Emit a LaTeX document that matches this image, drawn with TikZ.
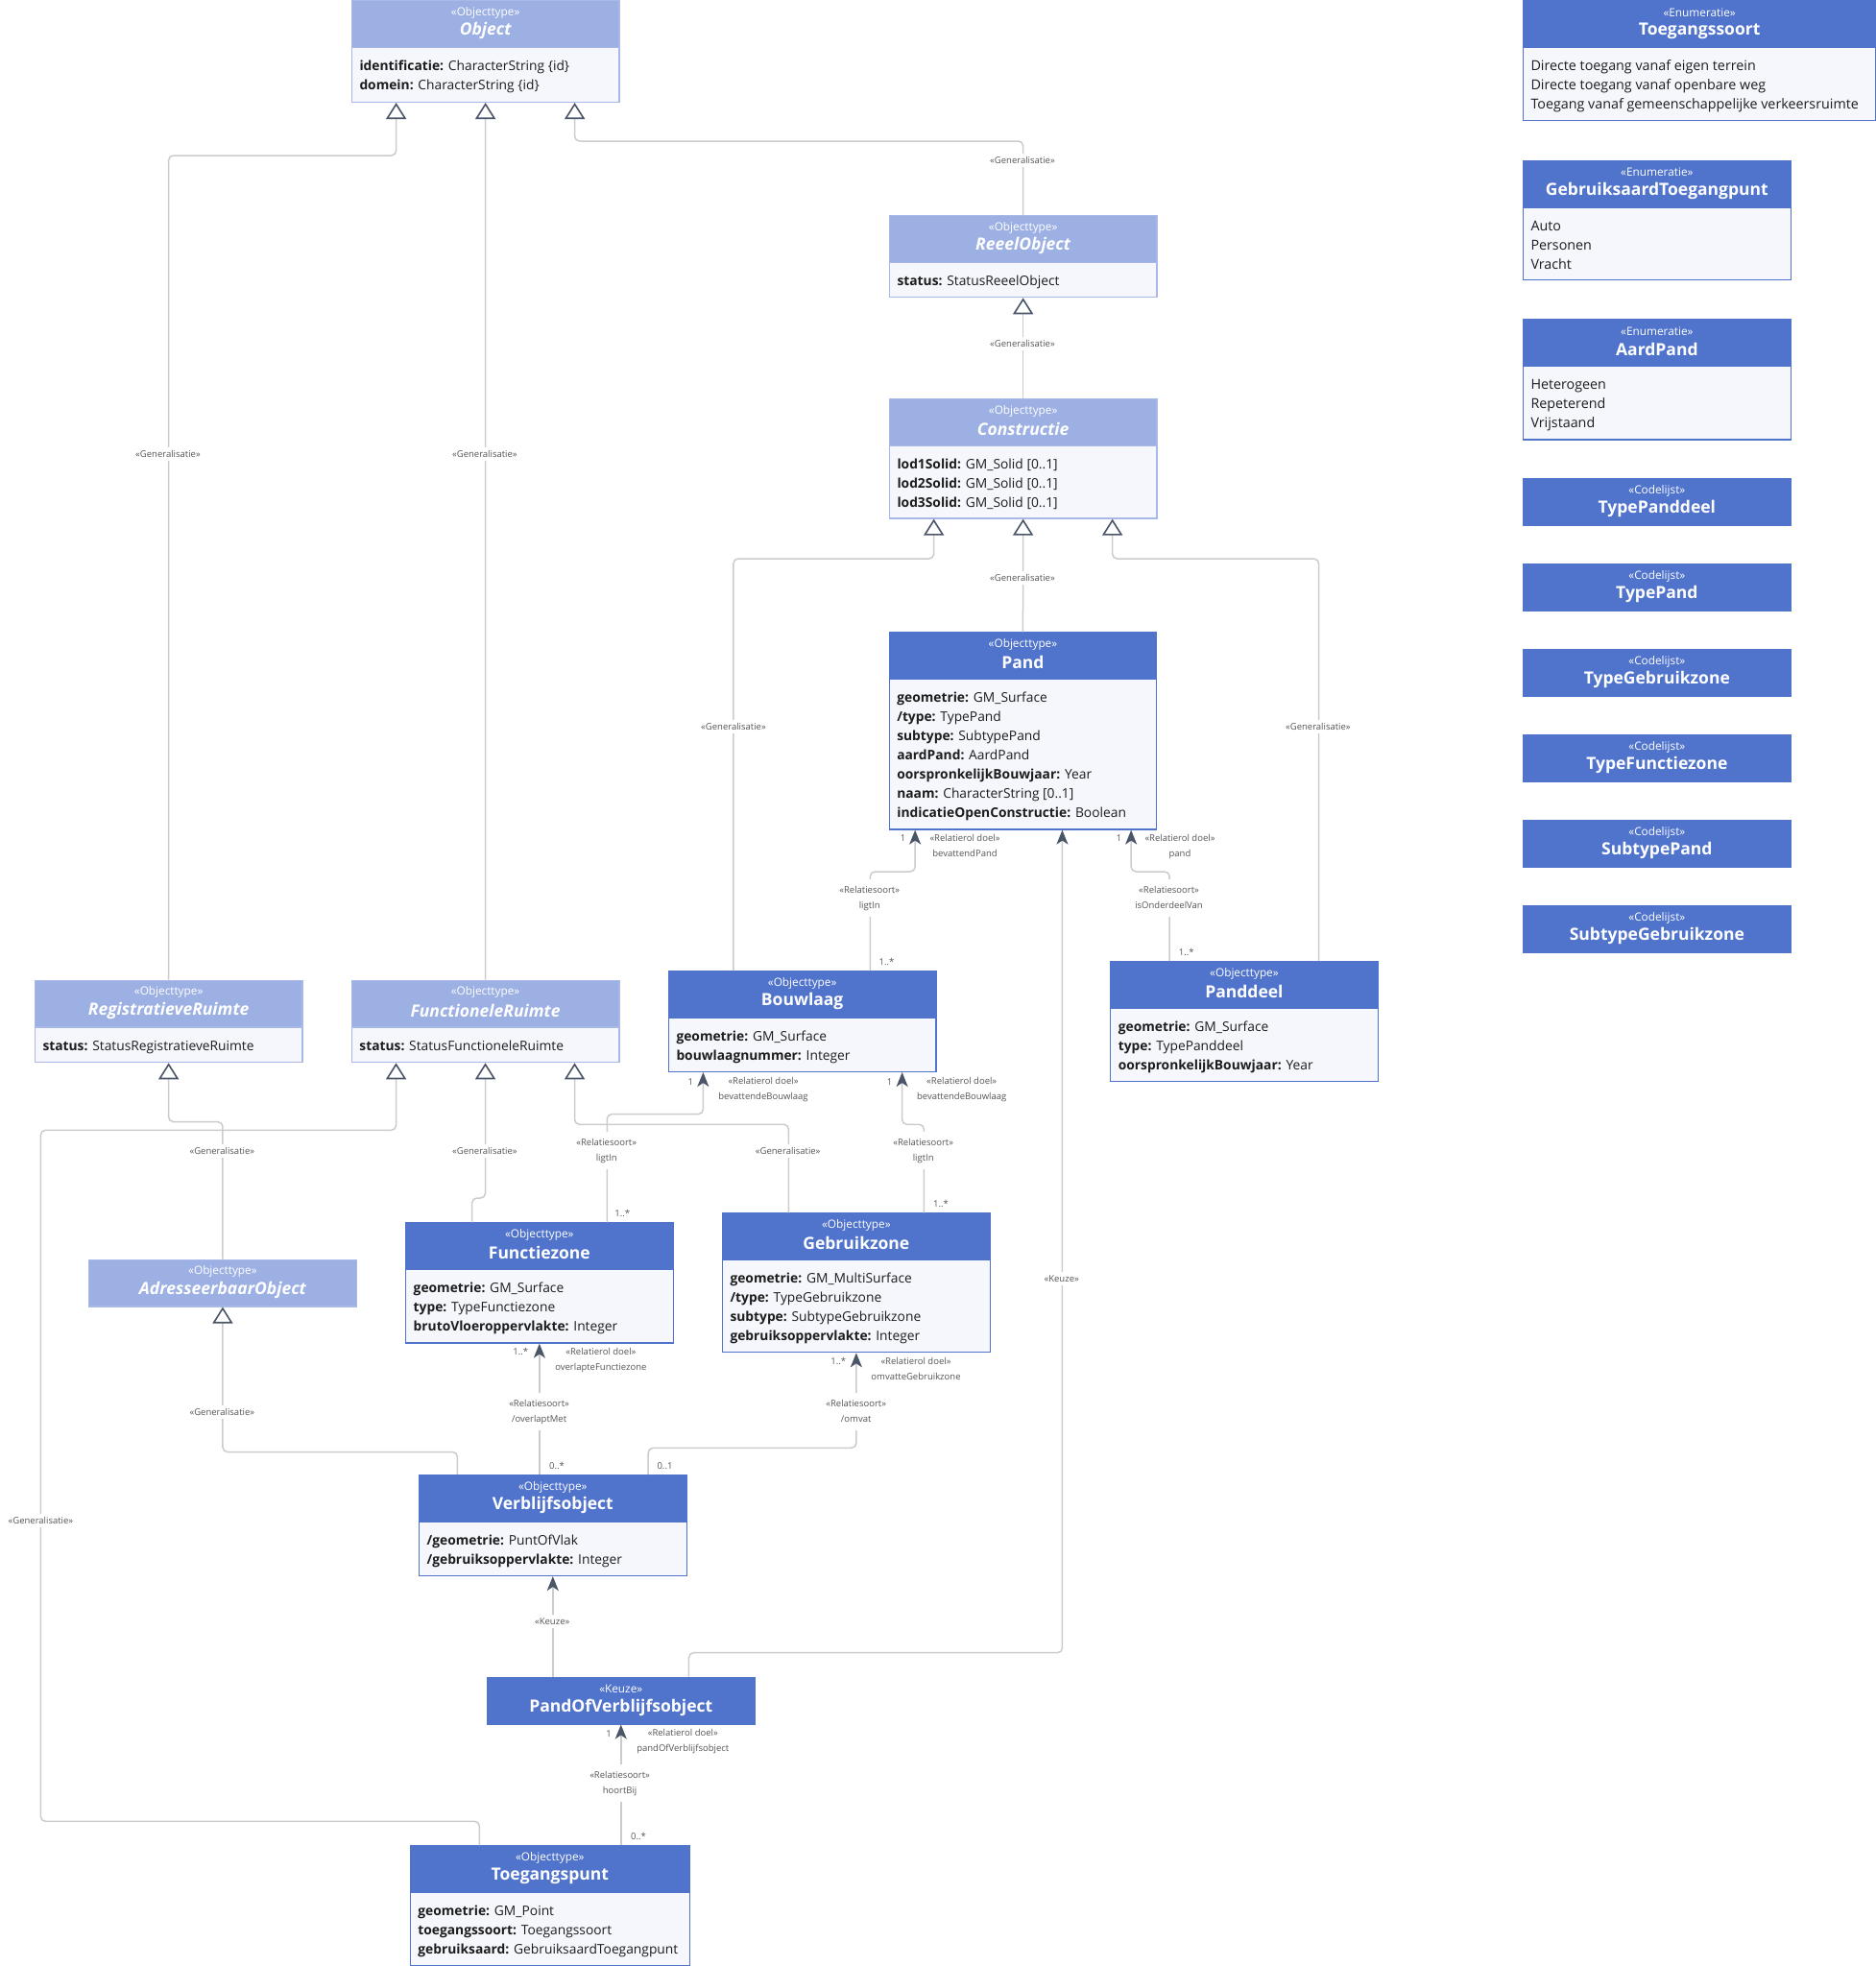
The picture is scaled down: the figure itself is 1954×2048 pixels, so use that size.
\documentclass[tikz,border=0pt]{standalone}
\usepackage{fontspec}
\setmainfont{Open Sans}
\usetikzlibrary{arrows.meta}
\definecolor{darkhead}{RGB}{80,115,204}
\definecolor{lighthead}{RGB}{157,176,227}
\definecolor{lightborder}{RGB}{168,185,232}
\definecolor{bodyc}{RGB}{245,247,252}
\definecolor{linec}{RGB}{204,204,204}
\definecolor{tipc}{RGB}{74,85,104}
\definecolor{textc}{RGB}{28,28,28}
\definecolor{labc}{RGB}{85,85,85}
\newcommand\attr[2]{\strut\textbf{#1:} #2}
\newcommand\enumval[1]{\strut{\fontsize{14.3}{20}\selectfont #1}}
\newcommand\classbox[8]{%
  \node[box#2, minimum width=#4, minimum height=#5] (#1) at (#3) {};
  \node[head#2, minimum width=#4] (#1head) at (#1.north) {};
  \node[stereo] (#1st) at ([yshift=-13pt]#1head.north) {«#6»};
  \node[title#2] (#1nm) at ([yshift=-32pt]#1head.north) {#7};
  \node[attrs] (#1at) at ([xshift=8.6pt,yshift=-9.4pt]#1head.south west) {#8};
}

\begin{document}
\begin{tikzpicture}
[x=1pt,y=-1pt,
boxdark/.style={anchor=north west,draw=darkhead,fill=bodyc,line width=1.3pt,inner sep=0pt},
boxlight/.style={anchor=north west,draw=lightborder,fill=bodyc,line width=1.3pt,inner sep=0pt},
headdark/.style={anchor=north,draw=darkhead,fill=darkhead,line width=1.3pt,minimum height=48.5pt,inner sep=0pt},
headlight/.style={anchor=north,draw=lightborder,fill=lighthead,line width=1.3pt,minimum height=48.5pt,inner sep=0pt},
stereo/.style={text=white,inner sep=0pt,font=\fontsize{11.8}{13}\selectfont},
titledark/.style={text=white,inner sep=0pt,font=\bfseries\fontsize{17.5}{20}\selectfont},
titlelight/.style={text=white,inner sep=0pt,font=\bfseries\itshape\fontsize{17.5}{20}\selectfont},
attrs/.style={anchor=north west,align=left,inner sep=0pt,text=textc,font=\fontsize{13.8}{20}\selectfont},
gen/.style={draw=linec,line width=1.5pt,rounded corners=5pt,
  -{Triangle[width=21pt,length=17pt,fill=white,color=tipc,line width=1.6pt]}},
assoc/.style={draw=linec,line width=1.5pt,rounded corners=5pt,
  -{Stealth[length=15pt,width=12pt,inset=4pt,color=tipc]}},
lab/.style={fill=white,text=labc,inner sep=3.5pt,align=center,font=\fontsize{9.5}{16}\selectfont},
role/.style={text=labc,inner sep=0pt,align=center,font=\fontsize{9.5}{16}\selectfont}]
\fill[white] (0,0) rectangle (1954,2048);
\useasboundingbox (0,0) rectangle (1954,2048);

\classbox{object}{light}{365.7,0}{278.6}{105.7}{Objecttype}{Object}{\attr{identificatie}{CharacterString \{id\}}\\\attr{domein}{CharacterString \{id\}}}
\classbox{reeel}{light}{925.7,224}{278.6}{85}{Objecttype}{ReeelObject}{\attr{status}{StatusReeelObject}}
\classbox{constructie}{light}{925.7,415}{278.6}{124.3}{Objecttype}{Constructie}{\attr{lod1Solid}{GM\_Solid [0..1]}\\\attr{lod2Solid}{GM\_Solid [0..1]}\\\attr{lod3Solid}{GM\_Solid [0..1]}}
\classbox{pand}{dark}{925.5,658.3}{278.6}{205}{Objecttype}{Pand}{\attr{geometrie}{GM\_Surface}\\\attr{/type}{TypePand}\\\attr{subtype}{SubtypePand}\\\attr{aardPand}{AardPand}\\\attr{oorspronkelijkBouwjaar}{Year}\\\attr{naam}{CharacterString [0..1]}\\\attr{indicatieOpenConstructie}{Boolean}}
\classbox{panddeel}{dark}{1156,1001}{278.6}{125}{Objecttype}{Panddeel}{\attr{geometrie}{GM\_Surface}\\\attr{type}{TypePanddeel}\\\attr{oorspronkelijkBouwjaar}{Year}}
\classbox{bouwlaag}{dark}{695.7,1011}{278.6}{104.7}{Objecttype}{Bouwlaag}{\attr{geometrie}{GM\_Surface}\\\attr{bouwlaagnummer}{Integer}}
\classbox{regruimte}{light}{35.7,1020.7}{278.6}{85.3}{Objecttype}{RegistratieveRuimte}{\attr{status}{StatusRegistratieveRuimte}}
\classbox{funcruimte}{light}{365.6,1020.7}{278.6}{85.3}{Objecttype}{FunctioneleRuimte}{\attr{status}{StatusFunctioneleRuimte}}
\classbox{adres}{light}{92,1311.7}{278.6}{48.5}{Objecttype}{AdresseerbaarObject}{}
\classbox{functiezone}{dark}{421.9,1273.3}{278.6}{125}{Objecttype}{Functiezone}{\attr{geometrie}{GM\_Surface}\\\attr{type}{TypeFunctiezone}\\\attr{brutoVloeroppervlakte}{Integer}}
\classbox{gebruikzone}{dark}{751.7,1263.3}{279}{144.7}{Objecttype}{Gebruikzone}{\attr{geometrie}{GM\_MultiSurface}\\\attr{/type}{TypeGebruikzone}\\\attr{subtype}{SubtypeGebruikzone}\\\attr{gebruiksoppervlakte}{Integer}}
\classbox{verblijf}{dark}{435.8,1536}{278.7}{104.7}{Objecttype}{Verblijfsobject}{\attr{/geometrie}{PuntOfVlak}\\\attr{/gebruiksoppervlakte}{Integer}}
\classbox{pov}{dark}{506.5,1746.7}{279.2}{48.5}{Keuze}{PandOfVerblijfsobject}{}
\classbox{toegang}{dark}{426.6,1922.3}{291.1}{124.5}{Objecttype}{Toegangspunt}{\attr{geometrie}{GM\_Point}\\\attr{toegangssoort}{Toegangssoort}\\\attr{gebruiksaard}{GebruiksaardToegangpunt}}

\classbox{toegangssoort}{dark}{1585.7,0}{367.6}{125}{Enumeratie}{Toegangssoort}{\enumval{Directe toegang vanaf eigen terrein}\\\enumval{Directe toegang vanaf openbare weg}\\\enumval{Toegang vanaf gemeenschappelijke verkeersruimte}}
\classbox{gebruiksaard}{dark}{1585.7,166.7}{279}{124.3}{Enumeratie}{GebruiksaardToegangpunt}{\enumval{Auto}\\\enumval{Personen}\\\enumval{Vracht}}
\classbox{aardpand}{dark}{1585.7,332.3}{279}{125}{Enumeratie}{AardPand}{\enumval{Heterogeen}\\\enumval{Repeterend}\\\enumval{Vrijstaand}}
\foreach \nm/\ty [count=\i from 0] in {typepanddeel/TypePanddeel,typepand/TypePand,typegebruikzone/TypeGebruikzone,typefunctiezone/TypeFunctiezone,subtypepand/SubtypePand,subtypegebruikzone/SubtypeGebruikzone}
  {\classbox{\nm}{dark}{1585.7,{498.3+89*\i}}{279}{48.4}{Codelijst}{\ty}{}}

% generalisaties
\draw[gen] (regruimte.north) |- ([xshift=-93pt,yshift=-55pt]object.south) -- ([xshift=-93pt]object.south);
\draw[gen] (funcruimte.north) -- (object.south);
\draw[gen] (reeel.north) |- ([xshift=93pt,yshift=-40pt]object.south) -- ([xshift=93pt]object.south);
\draw[gen] (constructie.north) -- (reeel.south);
\draw[gen] ([xshift=-71.7pt]bouwlaag.north) |- ([xshift=-93pt,yshift=-41.4pt]constructie.south) -- ([xshift=-93pt]constructie.south);
\draw[gen] (pand.north) -- (constructie.south);
\draw[gen] ([xshift=77.6pt]panddeel.north) |- ([xshift=93pt,yshift=-41.4pt]constructie.south) -- ([xshift=93pt]constructie.south);
\draw[gen] (adres.north) |- ([yshift=-61.3pt]regruimte.south) -- (regruimte.south);
\draw[gen] ([xshift=-73.4pt]toegang.north) -- ++(0,-25) -| (42.4,1177.3) -| ([xshift=-93pt]funcruimte.south);
\draw[gen] ([xshift=-70.2pt]functiezone.north) |- ([yshift=-140.7pt]funcruimte.south) -- (funcruimte.south);
\draw[gen] ([xshift=-70.5pt]gebruikzone.north) |- ([xshift=93pt,yshift=-64pt]funcruimte.south) -- ([xshift=93pt]funcruimte.south);
\draw[gen] ([xshift=-99.4pt]verblijf.north) |- ([yshift=-151pt]adres.south) -- (adres.south);

% relaties
\draw[assoc] ([xshift=70.7pt]bouwlaag.north) |- ([xshift=-112.3pt,yshift=-43.4pt]pand.south) -- ([xshift=-112.3pt]pand.south);
\draw[assoc] ([xshift=-77.8pt]panddeel.north) |- ([xshift=112.7pt,yshift=-43.4pt]pand.south) -- ([xshift=112.7pt]pand.south);
\draw[assoc] ([xshift=70.7pt]pov.north) -- ++(0,-25) -| ([xshift=41pt]pand.south);
\draw[assoc] ([xshift=70.5pt]functiezone.north) |- ([xshift=-103.3pt,yshift=-43.6pt]bouwlaag.south) -- ([xshift=-103.3pt]bouwlaag.south);
\draw[assoc] ([xshift=70.5pt]gebruikzone.north) |- ([xshift=104pt,yshift=-54.3pt]bouwlaag.south) -- ([xshift=104pt]bouwlaag.south);
\draw[assoc] (functiezone.south |- verblijf.north) -- (functiezone.south);
\draw[assoc] ([xshift=99.4pt]verblijf.north) -- ++(0,-27.7) -| (gebruikzone.south);
\draw[assoc] (verblijf.south |- pov.north) -- (verblijf.south);
\draw[assoc] (pov.south |- toegang.north) -- (pov.south);

% labels
\node[lab] at (175,473) {«Generalisatie»};
\node[lab] at (504.9,473) {«Generalisatie»};
\node[lab] at (1065,166.7) {«Generalisatie»};
\node[lab] at (1065,357.7) {«Generalisatie»};
\node[lab] at (764,756.7) {«Generalisatie»};
\node[lab] at (1065,601.7) {«Generalisatie»};
\node[lab] at (1372.9,756.7) {«Generalisatie»};
\node[lab] at (231.3,1199) {«Generalisatie»};
\node[lab] at (42.4,1584) {«Generalisatie»};
\node[lab] at (504.9,1199) {«Generalisatie»};
\node[lab] at (820.7,1198.7) {«Generalisatie»};
\node[lab] at (231.3,1470.7) {«Generalisatie»};
\node[lab] at (1105.7,1331.7) {«Keuze»};
\node[lab] at (575.2,1689.3) {«Keuze»};

\node[role] at (940.7,873) {1};
\node[role] at (1005,881) {\strut«Relatierol doel»\\\strut bevattendPand};
\node[lab] at (905.7,935.3) {\strut«Relatiesoort»\\\strut ligtIn};
\node[role] at (923.6,1002.3) {1..*};
\node[role] at (1165.7,873) {1};
\node[role] at (1229,881) {\strut«Relatierol doel»\\\strut pand};
\node[lab] at (1217.5,935.3) {\strut«Relatiesoort»\\\strut isOnderdeelVan};
\node[role] at (1235.7,991.7) {1..*};

\node[role] at (719.3,1126.7) {1};
\node[role] at (795,1134.7) {\strut«Relatierol doel»\\\strut bevattendeBouwlaag};
\node[lab] at (631.7,1198.5) {\strut«Relatiesoort»\\\strut ligtIn};
\node[role] at (648.3,1264) {1..*};
\node[role] at (926.7,1126.7) {1};
\node[role] at (1001.7,1134.7) {\strut«Relatierol doel»\\\strut bevattendeBouwlaag};
\node[lab] at (961.7,1198.5) {\strut«Relatiesoort»\\\strut ligtIn};
\node[role] at (980,1254.3) {1..*};

\node[role] at (542.3,1408.3) {1..*};
\node[role] at (625.9,1416.3) {\strut«Relatierol doel»\\\strut overlapteFunctiezone};
\node[lab] at (561.6,1470.5) {\strut«Relatiesoort»\\\strut /overlaptMet};
\node[role] at (580,1527.3) {0..*};
\node[role] at (873.3,1418.3) {1..*};
\node[role] at (954,1426.3) {\strut«Relatierol doel»\\\strut omvatteGebruikzone};
\node[lab] at (891.7,1470.5) {\strut«Relatiesoort»\\\strut /omvat};
\node[role] at (692.5,1527.3) {0..1};

\node[role] at (634,1805.7) {1};
\node[role] at (711.3,1813.7) {\strut«Relatierol doel»\\\strut pandOfVerblijfsobject};
\node[lab] at (645.6,1857.7) {\strut«Relatiesoort»\\\strut hoortBij};
\node[role] at (665,1913.3) {0..*};
\end{tikzpicture}
\end{document}
